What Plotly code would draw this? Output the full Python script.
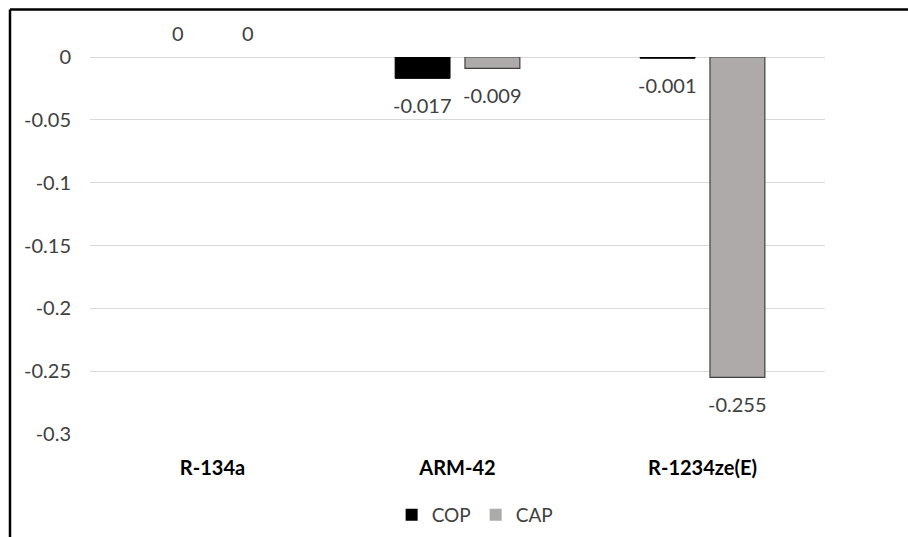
import plotly.graph_objects as go

categories = ["R-134a", "ARM-42", "R-1234ze(E)"]
cop = [0, -0.017, -0.001]
cap = [0, -0.009, -0.255]
label_cop = ["0", "-0.017", "-0.001"]
label_cap = ["0", "-0.009", "-0.255"]
y_ticks = [0, -0.05, -0.1, -0.15, -0.2, -0.25, -0.3]
y_tick_text = ["0", "-0.05", "-0.1", "-0.15", "-0.2", "-0.25", "-0.3"]

FONT = "Lato, Open Sans, sans-serif"
TXT = "#404040"

fig = go.Figure()
fig.add_trace(go.Bar(name="COP", x=categories, y=cop,
                     marker=dict(color="#000000",
                                 line=dict(color="#000000",
                                           width=[0 if v == 0 else 1 for v in cop]))))
fig.add_trace(go.Bar(name="CAP", x=categories, y=cap,
                     marker=dict(color="#AEAAAA",
                                 line=dict(color="#404040",
                                           width=[0 if v == 0 else 1.2 for v in cap]))))

anns = []
for series, labels, xs in ((cop, label_cop, -35), (cap, label_cap, 35)):
    for c, v, t in zip(categories, series, labels):
        anns.append(dict(x=c, y=v, xref="x", yref="y", text=t, showarrow=False,
                         xshift=xs, yshift=(24 if v >= 0 else -27),
                         font=dict(family=FONT, size=20, color=TXT)))

# frame lines (top and left)
px_l = (10 - 90) / 735
py_t = (434 - 9.5) / 377
shapes = [
    dict(type="line", xref="paper", yref="paper", x0=px_l, x1=1.2, y0=py_t, y1=py_t,
         line=dict(color="#000000", width=2.5)),
    dict(type="line", xref="paper", yref="paper", x0=px_l, x1=px_l, y0=py_t, y1=-0.4,
         line=dict(color="#000000", width=2.5)),
]

fig.update_layout(
    width=908, height=537,
    margin=dict(l=90, r=83, t=57, b=103),
    paper_bgcolor="white", plot_bgcolor="white",
    barmode="group", bargap=0.43, bargroupgap=0.214,
    font=dict(family=FONT, size=19, color=TXT),
    annotations=anns, shapes=shapes,
    showlegend=True,
    legend=dict(orientation="h", xref="paper", yref="container",
                x=0.524, y=(537 - 515) / 537, xanchor="center", yanchor="middle",
                font=dict(family=FONT, size=19, color=TXT), itemwidth=30,
                traceorder="normal"),
    xaxis=dict(showgrid=False, showline=False, ticks="", automargin=False,
               tickfont=dict(family=FONT, size=20, color="#000000", weight="bold"),
               ticklabelstandoff=20),
    yaxis=dict(range=[-0.3, 0], tickvals=y_ticks, ticktext=y_tick_text, automargin=False,
               showgrid=True, gridcolor="#D9D9D9", gridwidth=1,
               zeroline=True, zerolinecolor="#D9D9D9", zerolinewidth=1,
               showline=False, ticks="", ticklabelstandoff=18,
               tickfont=dict(family=FONT, size=20, color=TXT)),
)
fig.update_traces(cliponaxis=False)

fig.write_html("out.html", config={"displayModeBar": False},
               post_script="document.body.style.margin='0';document.body.style.overflow='hidden';")
